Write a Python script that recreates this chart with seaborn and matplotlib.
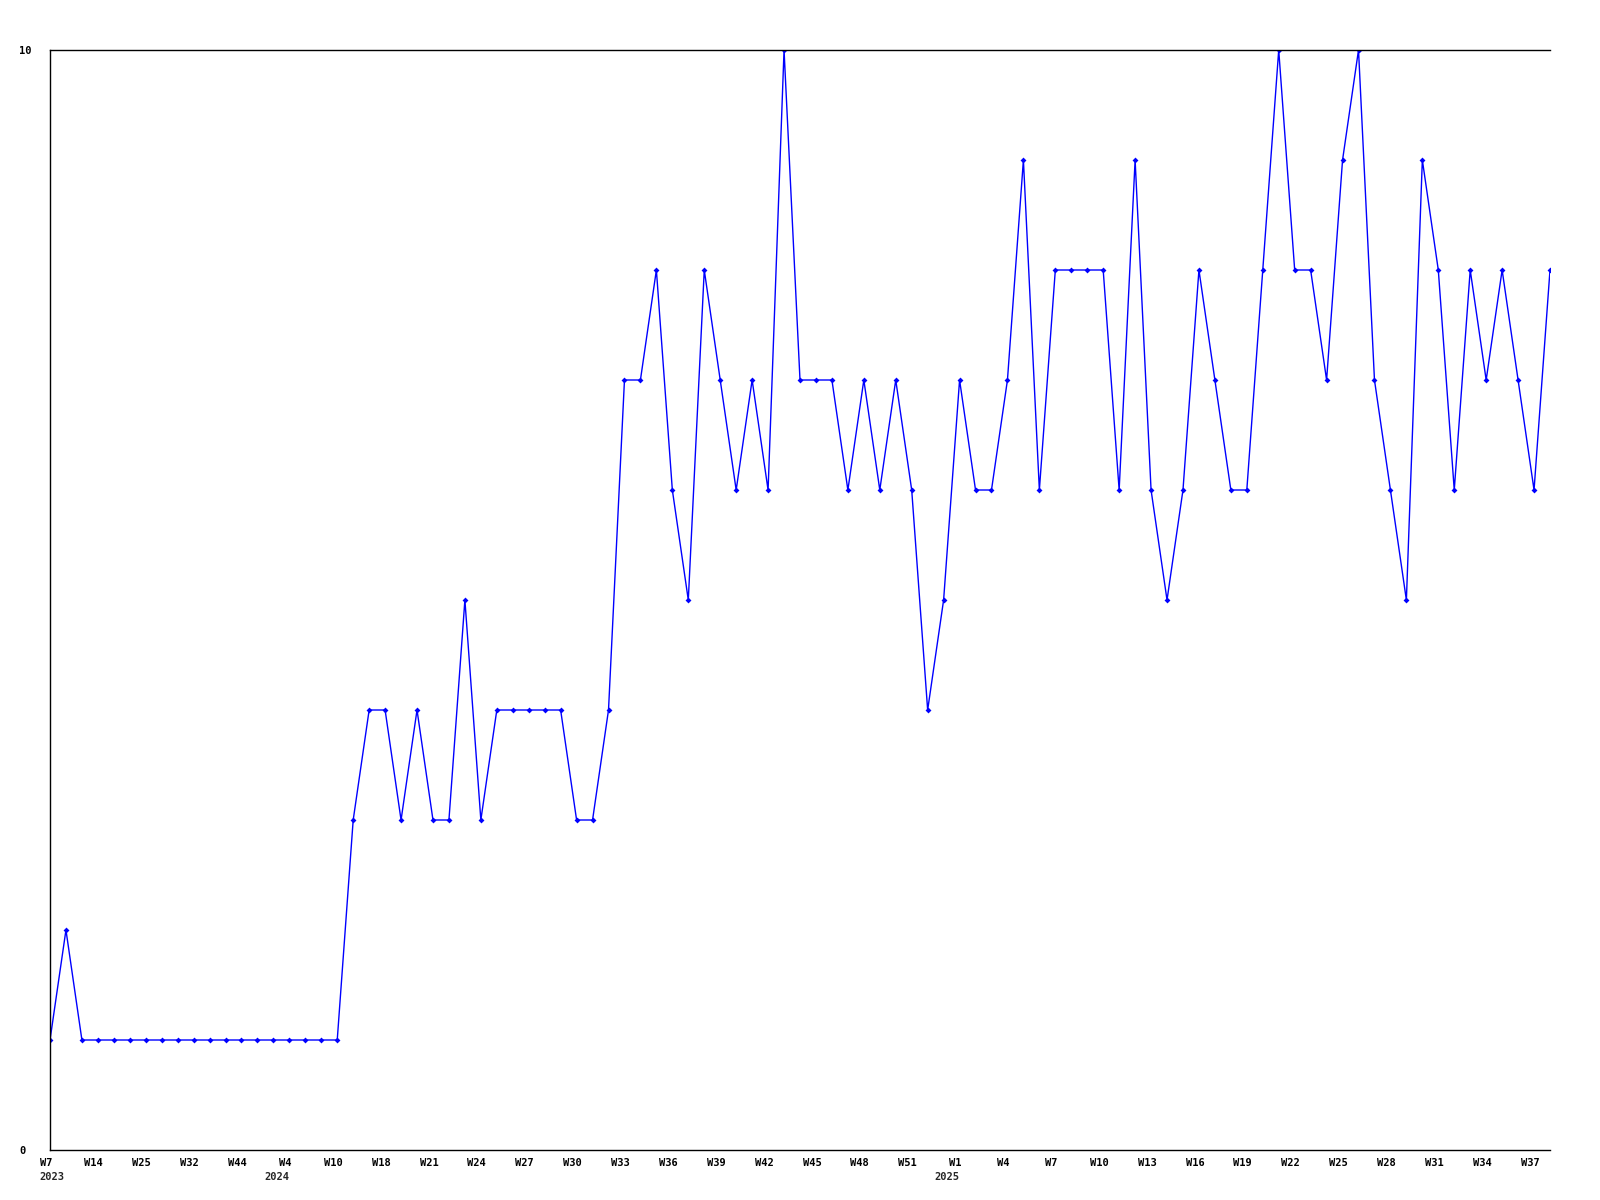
import numpy as np
import pandas as pd
import matplotlib
matplotlib.use('Agg')
import matplotlib.pyplot as plt
import matplotlib.transforms as mtrans
import seaborn as sns

# weekly values, one per week that has data
nilai = [1, 2, 1, 1, 1, 1, 1, 1, 1, 1, 1, 1, 1, 1, 1, 1, 1, 1, 1,
         3, 4, 4, 3, 4, 3, 3, 5, 3, 4, 4, 4, 4, 4, 3, 3, 4,
         7, 7, 8, 6, 5, 8, 7, 6, 7, 6, 10, 7, 7, 7, 6, 7, 6, 7, 6,
         4, 5, 7, 6, 6, 7, 9, 6, 8, 8, 8, 8, 6, 9, 6, 5, 6, 8, 7,
         6, 6, 8, 10, 8, 8, 7, 9, 10, 7, 6, 5, 9, 8, 6, 8, 7, 8, 7, 6, 8]

# every third week gets a label
minggu_label = ['W7', 'W14', 'W25', 'W32', 'W44', 'W4', 'W10', 'W18', 'W21', 'W24',
                'W27', 'W30', 'W33', 'W36', 'W39', 'W42', 'W45', 'W48', 'W51', 'W1',
                'W4', 'W7', 'W10', 'W13', 'W16', 'W19', 'W22', 'W25', 'W28', 'W31',
                'W34', 'W37']
tahun_label = ['2023', '2024', '2025']
tahun_idx = [0, 15, 57]

data = pd.DataFrame({'idx': np.arange(len(nilai)), 'nilai': nilai})

sns.set_style('white')
plt.rcParams['font.family'] = ['DejaVu Sans Mono']
plt.rcParams['font.weight'] = 'bold'
plt.rcParams['font.size'] = 7.5

fig = plt.figure(figsize=(16, 12), dpi=100)
ax = fig.add_axes([50 / 1600, 50 / 1200, 1500 / 1600, 1100 / 1200])

sns.lineplot(data=data, x='idx', y='nilai', ax=ax, color='#0000ff', linewidth=1,
             marker='D', markersize=3, markeredgewidth=0)

ax.set_xlim(0, len(nilai) - 1)
ax.set_ylim(0, 10)
ax.set_xlabel('')
ax.set_ylabel('')

ax.set_xticks(np.arange(0, len(nilai), 3))
ax.set_xticklabels(minggu_label)
ax.set_yticks([0, 10])
ax.set_yticklabels(['0', '10'])
ax.tick_params(axis='both', length=0, colors='black')
ax.tick_params(axis='x', pad=6)
ax.tick_params(axis='y', pad=22.3)
for lbl in ax.get_yticklabels():
    lbl.set_ha('left')
geser = mtrans.ScaledTranslation(-4 / 100, 0, fig.dpi_scale_trans)
for lbl in ax.get_xticklabels():
    lbl.set_transform(lbl.get_transform() + geser)

# year labels under the first week of each year
trans = mtrans.blended_transform_factory(ax.transData, ax.transAxes)
for i, (t, x) in enumerate(zip(tahun_label, tahun_idx)):
    if i == 0:
        ax.text(x, -0.0245, t, transform=trans + mtrans.ScaledTranslation(-11 / 100, 0, fig.dpi_scale_trans),
                ha='left', va='center')
    else:
        ax.text(x, -0.0245, t, transform=trans, ha='right', va='center')

for s in ['left', 'top', 'bottom']:
    ax.spines[s].set_visible(True)
    ax.spines[s].set_color('black')
    ax.spines[s].set_linewidth(1)
ax.spines['right'].set_visible(False)
ax.grid(False)

fig.savefig('out.png', dpi=100)
